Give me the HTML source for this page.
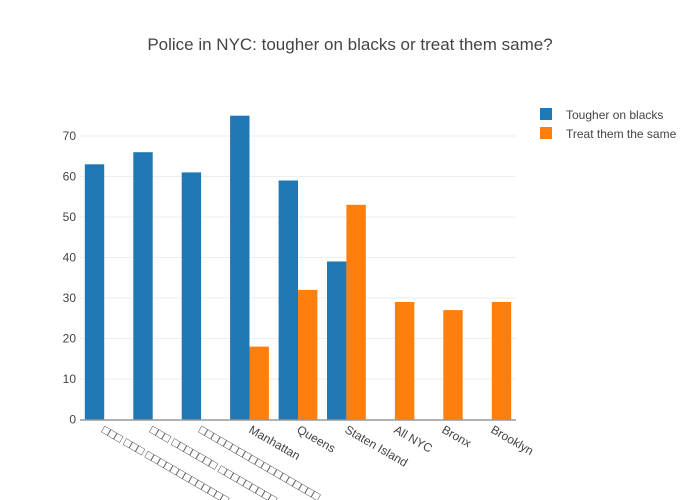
<!DOCTYPE html>
<html><head><meta charset="utf-8"><style>
html,body{margin:0;background:#fff;width:700px;height:500px;overflow:hidden}
svg{display:block;font-family:"Liberation Sans","DejaVu Sans",sans-serif;overflow:hidden}
</style></head><body>
<svg width="700" height="500" viewBox="0 0 700 500" xmlns="http://www.w3.org/2000/svg">
<defs><clipPath id="c"><rect x="0" y="0" width="700" height="500"/></clipPath></defs>
<rect width="700" height="500" fill="#fff"/>
<text x="350" y="50" text-anchor="middle" font-size="17" fill="#444">Police in NYC: tougher on blacks or treat them same?</text>
<g stroke="#eee" stroke-width="1">
<line x1="80" x2="516" y1="379" y2="379"/><line x1="80" x2="516" y1="338.5" y2="338.5"/>
<line x1="80" x2="516" y1="298" y2="298"/><line x1="80" x2="516" y1="257.5" y2="257.5"/>
<line x1="80" x2="516" y1="217" y2="217"/><line x1="80" x2="516" y1="176.5" y2="176.5"/>
<line x1="80" x2="516" y1="136" y2="136"/>
</g>
<g font-size="12" fill="#444" text-anchor="end">
<text x="76" y="423.5">0</text><text x="76" y="383">10</text><text x="76" y="342.5">20</text>
<text x="76" y="302">30</text><text x="76" y="261.5">40</text><text x="76" y="221">50</text>
<text x="76" y="180.5">60</text><text x="76" y="140">70</text>
</g>
<g fill="#1f77b4">
<rect x="84.8" y="164.3" width="19.4" height="255.2"/>
<rect x="133.3" y="152.2" width="19.4" height="267.3"/>
<rect x="181.7" y="172.4" width="19.4" height="247.1"/>
<rect x="230.1" y="115.7" width="19.4" height="303.8"/>
<rect x="278.6" y="180.5" width="19.4" height="239"/>
<rect x="327" y="261.5" width="19.4" height="158"/>
</g>
<g fill="#ff7f0e">
<rect x="249.5" y="346.6" width="19.4" height="72.9"/>
<rect x="298" y="289.9" width="19.4" height="129.6"/>
<rect x="346.4" y="204.8" width="19.4" height="214.7"/>
<rect x="394.9" y="302" width="19.4" height="117.5"/>
<rect x="443.3" y="310.1" width="19.4" height="109.4"/>
<rect x="491.8" y="302" width="19.4" height="117.5"/>
</g>
<line x1="80" x2="516" y1="420" y2="420" stroke="#999" stroke-width="1.5"/>
<g font-size="12" fill="#444" clip-path="url(#c)">
<text transform="translate(101,432) rotate(30)">□□□ □□□ □□□□□□□□□□□□□</text>
<text transform="translate(149,432) rotate(30)">□□□ □□□□□□□ □□□□□□□□□</text>
<text transform="translate(198,432) rotate(30)">□□□□□□□□□□□□□□□□□□□</text>
<text transform="translate(248,432) rotate(30)">Manhattan</text>
<text transform="translate(296,432) rotate(30)">Queens</text>
<text transform="translate(344,432) rotate(30)">Staten Island</text>
<text transform="translate(393,432) rotate(30)">All NYC</text>
<text transform="translate(441,432) rotate(30)">Bronx</text>
<text transform="translate(490,432) rotate(30)">Brooklyn</text>
</g>
<rect x="540" y="108" width="12" height="12" fill="#1f77b4"/>
<rect x="540" y="127" width="12" height="12" fill="#ff7f0e"/>
<g font-size="12" fill="#444">
<text x="566" y="119">Tougher on blacks</text>
<text x="566" y="138">Treat them the same</text>
</g>
</svg>
</body></html>
